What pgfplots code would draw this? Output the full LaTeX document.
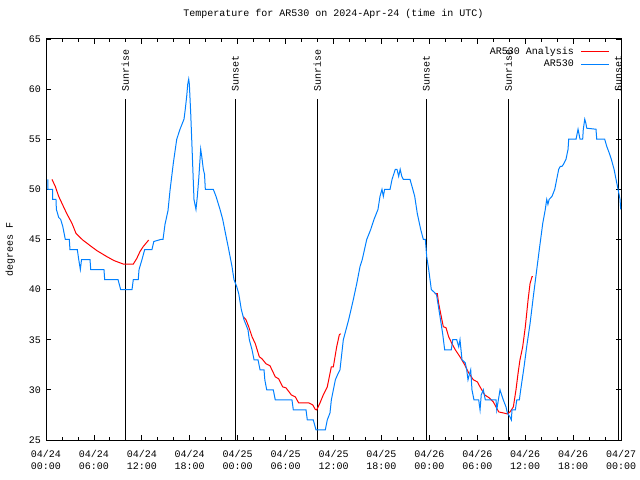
\documentclass[border=0pt]{standalone}
\usepackage{fontspec}
\setmainfont{Liberation Mono}
\usepackage{pgfplots}
\pgfplotsset{compat=1.18}
\definecolor{arblue}{RGB}{0,128,255}
\definecolor{arred}{RGB}{255,0,0}

\begin{document}
\begin{tikzpicture}[font=\fontsize{10bp}{15bp}\selectfont]
\useasboundingbox (-46bp,-40bp) rectangle (594bp,440bp);
\begin{axis}[
  scale only axis, width=575bp, height=401bp,
  xmin=0, xmax=72, ymin=25, ymax=65,
  xtick={0,6,...,72}, minor x tick num=2,
  xticklabels={{04/24\\00:00},{04/24\\06:00},{04/24\\12:00},{04/24\\18:00},
               {04/25\\00:00},{04/25\\06:00},{04/25\\12:00},{04/25\\18:00},
               {04/26\\00:00},{04/26\\06:00},{04/26\\12:00},{04/26\\18:00},
               {04/27\\00:00}},
  ytick={25,30,...,65},
  tick align=inside, major tick length=5bp, minor tick length=3bp,
  every tick/.style={black, line width=0.8bp},
  axis line style={line width=1bp},
  /pgf/number format/assume math mode=true,
  xticklabel style={align=center, inner sep=2bp, yshift=-8bp,
    font=\fontsize{10bp}{12.3bp}\selectfont},
  yticklabel style={inner sep=2bp, xshift=-3bp},
  ylabel={degrees F},
  ylabel style={at={(axis description cs:-0.062,0.474)}, anchor=center, rotate=0},
  title={Temperature for AR530 on 2024-Apr-24 (time in UTC)},
  title style={at={(axis description cs:0.5,1)}, anchor=center, yshift=19bp},
  clip mode=individual,
  legend style={at={(axis description cs:1,1)}, anchor=north east, draw=none, fill=none,
    xshift=-11bp, yshift=-6bp, row sep=0bp, inner sep=0pt,
    nodes={inner sep=2bp},
    /tikz/every odd column/.append style={column sep=5bp}},
  legend cell align=right, legend plot pos=right,
  legend image code/.code={\draw[#1] (0bp,0bp) -- (28bp,0bp);},
]
% sunrise / sunset markers
\addplot[black, line width=1bp, forget plot] coordinates {(9.93,25) (9.93,59)};
\addplot[black, line width=1bp, forget plot] coordinates {(23.70,25) (23.70,59)};
\addplot[black, line width=1bp, forget plot] coordinates {(33.97,25) (33.97,59)};
\addplot[black, line width=1bp, forget plot] coordinates {(47.62,25) (47.62,59)};
\addplot[black, line width=1bp, forget plot] coordinates {(57.89,25) (57.89,59)};
\addplot[black, line width=1bp, forget plot] coordinates {(71.66,25) (71.66,59)};
\node[rotate=90, anchor=west, inner sep=0pt] at (axis cs:9.93,59.7) {Sunrise};
\node[rotate=90, anchor=west, inner sep=0pt] at (axis cs:23.70,59.7) {Sunset};
\node[rotate=90, anchor=west, inner sep=0pt] at (axis cs:33.97,59.7) {Sunrise};
\node[rotate=90, anchor=west, inner sep=0pt] at (axis cs:47.62,59.7) {Sunset};
\node[rotate=90, anchor=west, inner sep=0pt] at (axis cs:57.89,59.7) {Sunrise};
\node[rotate=90, anchor=west, inner sep=0pt] at (axis cs:71.66,59.7) {Sunset};

% analysis
\addplot[arred, line width=1bp] coordinates {
(0.75,51) (1.16,50.3) (1.59,49.3) (2.0,48.6) (2.59,47.6) (3.26,46.6) (3.76,45.6)
(4.60,44.95) (5.51,44.4) (6.35,43.9) (7.60,43.3) (8.51,42.9) (9.68,42.55)
(10.93,42.55) (11.36,43.1) (11.77,43.8) (12.18,44.3) (12.86,44.95)};
\addlegendentry{AR530 Analysis}
\addplot[arred, line width=1bp, forget plot] coordinates {
(24.71,37.3) (25.04,37) (25.38,36.3) (25.80,35.3) (26.21,34.6) (26.71,33.3)
(27.05,33.1) (27.55,32.6) (28.05,32.4) (28.71,31.3) (29.14,31.1) (29.64,30.3)
(30.05,30.2) (30.72,29.5) (31.22,29.3) (31.64,28.7) (32.22,28.7) (32.90,28.7)
(33.40,28.5) (33.72,28.05) (33.90,28) (34.31,28.7) (34.72,29.5) (35.22,30.3)
(35.73,32.3) (35.98,32.3) (36.40,34.3) (36.73,35.5) (36.90,35.6)};
\addplot[arred, line width=1bp, forget plot] coordinates {
(48.67,39.6) (49.0,39.6) (49.17,38.6) (49.42,37.6) (49.75,36.3) (50.09,36.2)
(50.42,35.3) (50.84,34.6) (51.25,34) (51.84,33.3) (52.43,32.5) (52.93,31.7)
(53.51,31) (54.01,30.8) (54.35,30.3) (54.93,29.5) (55.51,29.2) (56.01,28.8)
(56.69,27.8) (57.26,27.7) (57.77,27.6) (58.10,27.8) (58.52,28.3) (58.85,30)
(59.10,31.6) (59.35,33) (59.69,34.3) (60.02,36.3) (60.36,38.95) (60.61,40.6)
(60.86,41.3) (60.98,41.3)};

% observations
\addplot[arblue, line width=1bp] coordinates {
(0.25,51) (0.25,50) (0.84,50) (0.84,49) (1.25,49) (1.3,48) (1.59,47.2) (1.84,47)
(2.1,46.3) (2.42,45) (2.92,45) (3.0,44) (3.92,44) (4.1,43) (4.3,42) (4.45,43)
(5.51,43) (5.6,42) (7.26,42) (7.35,41) (9.02,41) (9.35,40) (10.77,40) (10.93,41)
(11.55,41) (11.65,42) (12.02,43) (12.36,44) (13.27,44) (13.5,44.8) (14.36,45)
(14.65,45) (14.9,46.5) (15.28,47.9) (15.53,49.9) (15.94,52.6) (16.37,55)
(16.78,56) (17.28,57) (17.44,58) (17.62,59.3) (17.75,60.5) (17.87,61) (17.95,60.5)
(18.12,57.6) (18.28,54.3) (18.53,49) (18.78,48) (18.95,49.3) (19.12,51) (19.37,54)
(19.5,53.3) (19.70,52) (19.85,51.5) (19.95,50) (20.95,50) (21.29,49.3) (21.79,48)
(22.13,47) (22.45,45.7) (22.88,44) (23.29,42.3) (23.54,41) (23.88,40.3) (24.13,39.6)
(24.46,38) (24.79,37) (25.29,36) (25.46,35) (25.80,34) (26.05,33) (26.55,33)
(26.80,32) (27.30,32) (27.40,31) (27.64,30) (28.46,30) (28.71,29) (30.80,29)
(30.97,28) (32.56,28) (32.72,27) (33.47,27) (33.81,26) (34.97,26) (35.22,27)
(35.56,27.7) (35.73,29) (36.23,31) (36.5,31.5) (36.81,32) (37.23,35) (37.90,37)
(38.48,39) (38.91,40.6) (39.32,42.3) (39.6,43) (40.16,45) (40.66,46) (41.07,47)
(41.57,48) (41.82,49.3) (42.07,50) (42.24,49.3) (42.4,50) (43.08,50) (43.33,51)
(43.74,52) (43.95,52) (44.16,51.3) (44.35,52) (44.55,51.3) (44.74,51) (45.58,51)
(45.83,50.3) (46.17,49.3) (46.49,47.6) (46.92,46) (47.25,45) (47.5,45) (47.67,43.3)
(47.92,42) (48.25,40) (48.67,39.7) (48.9,39.5) (49.34,37.3) (49.67,35.6) (49.92,34)
(50.75,34) (50.93,35) (51.43,35) (51.68,34.3) (51.84,35) (52.09,33) (52.5,32.7)
(52.68,32) (52.84,31) (53.0,31.5) (53.18,32) (53.34,30) (53.59,29) (54.18,29)
(54.35,28) (54.5,29.5) (54.76,30) (55.01,29) (56.35,29) (56.44,28) (56.85,30)
(57.26,29) (57.60,28.3) (57.77,27.7) (58.10,27.3) (58.27,27) (58.35,28) (58.77,28)
(58.95,29) (59.27,29) (59.44,30) (59.86,32.3) (60.19,34.3) (60.61,36.6) (61.02,39.3)
(61.45,42) (61.77,44) (62.20,46.6) (62.52,48) (62.70,49) (62.85,48.5) (63.0,49)
(63.36,49.3) (63.70,50) (63.95,51) (64.20,52) (64.4,52.3) (64.61,52.3) (64.8,52.5)
(65.11,53) (65.37,54) (65.45,55) (66.37,55) (66.62,56) (66.87,55) (67.20,55)
(67.28,56) (67.46,57) (67.6,56.6) (67.71,56.1) (68.87,56) (68.96,55) (69.96,55)
(70.21,54.3) (70.54,53.6) (70.79,53) (71.13,52) (71.38,51) (71.63,50) (71.88,49)
(71.96,48)};
\addlegendentry{AR530}
\end{axis}
\end{tikzpicture}
\end{document}
